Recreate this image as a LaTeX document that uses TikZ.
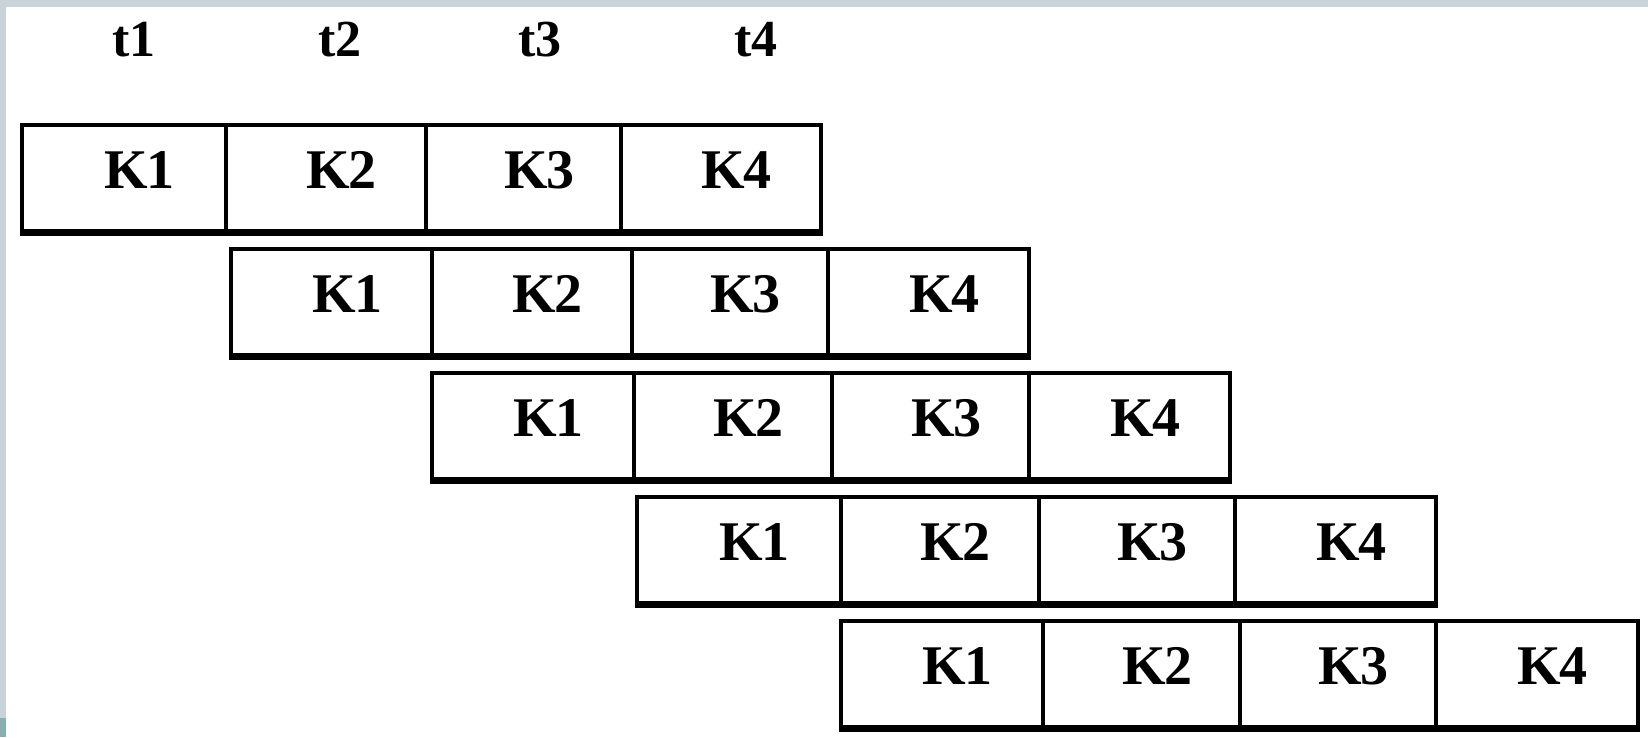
\documentclass[tikz,border=0pt]{standalone}
\usepackage{fontspec}
\setmainfont{Liberation Serif}
\definecolor{frameblue}{HTML}{C8D3DA}
\definecolor{frameteal}{HTML}{8AAFAF}
\begin{document}
\begin{tikzpicture}[x=1pt,y=-1pt,
  cell/.style={draw=black,line width=3.5pt,inner sep=0pt,minimum height=106pt,anchor=north west},
  klabel/.style={font=\fontsize{56}{56}\selectfont\bfseries,inner sep=0pt,anchor=center},
  tlabel/.style={font=\fontsize{52}{52}\selectfont\bfseries,inner sep=0pt,anchor=center}]
\useasboundingbox (0,0) rectangle (1648,737);
\fill[white] (0,0) rectangle (1648,737);
\fill[frameblue] (0,0) rectangle (1648,7);
\fill[frameblue] (0,0) rectangle (6,737);
\fill[frameteal] (0,718) rectangle (6,737);
% time labels
\node[tlabel] (t1) at (134,40) {t1};
\node[tlabel] (t2) at (340,40) {t2};
\node[tlabel] (t3) at (540,40) {t3};
\node[tlabel] (t4) at (756,40) {t4};
% rows of cells
\foreach \r/\top/\xa/\xb/\xc/\xd/\xe in {
  1/123/20/224/424/619/819,
  2/247/229/430/630/826/1027,
  3/371/430/632/830/1027/1228,
  4/495/635/839/1037/1233/1434,
  5/619/839/1041/1238/1434/1636}{
  \node[cell,minimum width={\xb-\xa}] (c\r-1) at (\xa,\top) {};
  \node[cell,minimum width={\xc-\xb}] (c\r-2) at (\xb,\top) {};
  \node[cell,minimum width={\xd-\xc}] (c\r-3) at (\xc,\top) {};
  \node[cell,minimum width={\xe-\xd}] (c\r-4) at (\xd,\top) {};
  \draw[line width=6pt] (c\r-1.south west) -- (c\r-4.south east);
  \foreach \k in {1,2,3,4}{
    \node[klabel] (k\r-\k) at ([xshift=16pt,yshift=8pt]c\r-\k.center) {K\kern-2pt\k};
  }
}
\end{tikzpicture}
\end{document}
